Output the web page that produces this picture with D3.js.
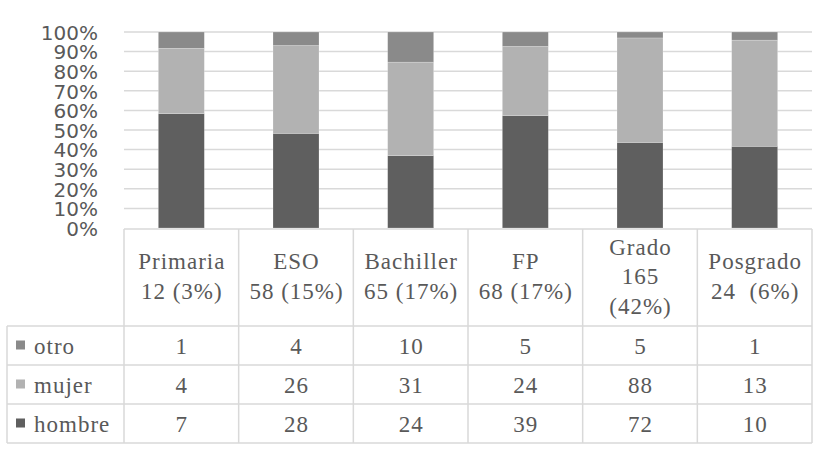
<!DOCTYPE html>
<html><head><meta charset="utf-8">
<script src="https://cdn.jsdelivr.net/npm/d3@7"></script>
<style>body{margin:0;background:#fff}svg{display:block}</style>
</head><body>
<svg id="c" width="833" height="453"></svg>
<script>
const categories = ["Primaria","ESO","Bachiller","FP","Grado","Posgrado"];
const headerLines = [["Primaria","12 (3%)"],["ESO","58 (15%)"],["Bachiller","65 (17%)"],["FP","68 (17%)"],["Grado","165","(42%)"],["Posgrado","24\u00a0 (6%)"]];
const otro = [1,4,10,5,5,1];
const mujer = [4,26,31,24,88,13];
const hombre = [7,28,24,39,72,10];
const seriesNames = ["otro","mujer","hombre"];
const yTicks = [0,0.1,0.2,0.3,0.4,0.5,0.6,0.7,0.8,0.9,1];

(function(){
const colors = {otro:"#8a8a8a", mujer:"#b2b2b2", hombre:"#5f5f5f"};
const grid = "#d9d9d9", textC = "#595959";
const svg = d3.select("#c");
const pL = 124, pR = 812, pT = 32, pB = 228;
const tableLeft = 7, headerBottom = 326, rowH = 39;

const x = d3.scaleBand().domain(categories).range([pL,pR]);
const y = d3.scaleLinear().domain([0,1]).range([pB,pT]);

const rows = categories.map((c,i)=>({cat:c, hombre:hombre[i], mujer:mujer[i], otro:otro[i]}));
const stack = d3.stack().keys(["hombre","mujer","otro"]).offset(d3.stackOffsetExpand);
const stacked = stack(rows);

svg.append("g").selectAll("line").data(yTicks.slice(1)).join("line")
  .attr("x1",pL).attr("x2",pR).attr("y1",d=>y(d)).attr("y2",d=>y(d))
  .attr("stroke",grid).attr("stroke-width",1.5);

const yAxis = d3.axisLeft(y).tickValues(yTicks).tickFormat(d3.format(".0%")).tickSize(0).tickPadding(0);
const ga = svg.append("g").attr("transform",`translate(98,0)`).call(yAxis);
ga.select(".domain").remove();
ga.selectAll("text").attr("font-family","'DejaVu Sans', sans-serif").attr("font-size",20).attr("fill",textC).attr("dy","0.36em");

const bw = 46;
svg.append("g").selectAll("g").data(stacked).join("g").attr("fill",d=>colors[d.key])
  .selectAll("rect").data(d=>d).join("rect")
  .attr("x",d=>x(d.data.cat)+x.bandwidth()/2-bw/2).attr("width",bw)
  .attr("y",d=>y(d[1])).attr("height",d=>y(d[0])-y(d[1]))
  .attr("stroke","#ffffff").attr("stroke-opacity",0.35).attr("stroke-width",0.6);

const tb = svg.append("g").attr("stroke",grid).attr("stroke-width",1.5).attr("fill","none");
const tableBottom = headerBottom + rowH*3;
tb.append("line").attr("x1",pL).attr("x2",pR).attr("y1",pB+1).attr("y2",pB+1);
[0,1,2,3].forEach(r=>{
  const yy = headerBottom + r*rowH;
  tb.append("line").attr("x1",tableLeft).attr("x2",pR).attr("y1",yy).attr("y2",yy);
});
tb.append("line").attr("x1",tableLeft).attr("x2",tableLeft).attr("y1",headerBottom).attr("y2",tableBottom);
categories.forEach(c=>{
  tb.append("line").attr("x1",x(c)).attr("x2",x(c)).attr("y1",pB+1).attr("y2",tableBottom);
});
tb.append("line").attr("x1",pR).attr("x2",pR).attr("y1",pB+1).attr("y2",tableBottom);

const serif = "Liberation Serif";
const hg = svg.append("g").attr("font-family",serif).attr("font-size",23).attr("letter-spacing",1).attr("fill",textC).attr("text-anchor","middle");
headerLines.forEach((lines,i)=>{
  const cx = x(categories[i]) + x.bandwidth()/2 + 0.5;
  const n = lines.length, lh = 29.5, mid = 284;
  lines.forEach((t,j)=>{
    hg.append("text").attr("x",cx).attr("y",mid - (n-1)*lh/2 + j*lh).text(t);
  });
});

const valuesBy = {otro, mujer, hombre};
const rg = svg.append("g").attr("font-family",serif).attr("font-size",23).attr("letter-spacing",1).attr("fill",textC);
seriesNames.forEach((s,r)=>{
  const rt = headerBottom + r*rowH;
  const cy = rt + rowH/2;
  rg.append("rect").attr("x",16).attr("y",cy-5).attr("width",9).attr("height",9).attr("fill",colors[s]);
  rg.append("text").attr("x",34).attr("y",rt+27.5).text(s);
  valuesBy[s].forEach((v,i)=>{
    rg.append("text").attr("x",x(categories[i])+x.bandwidth()/2+0.5).attr("y",rt+27.5).attr("text-anchor","middle").text(v);
  });
});
})();
</script>
</body></html>
